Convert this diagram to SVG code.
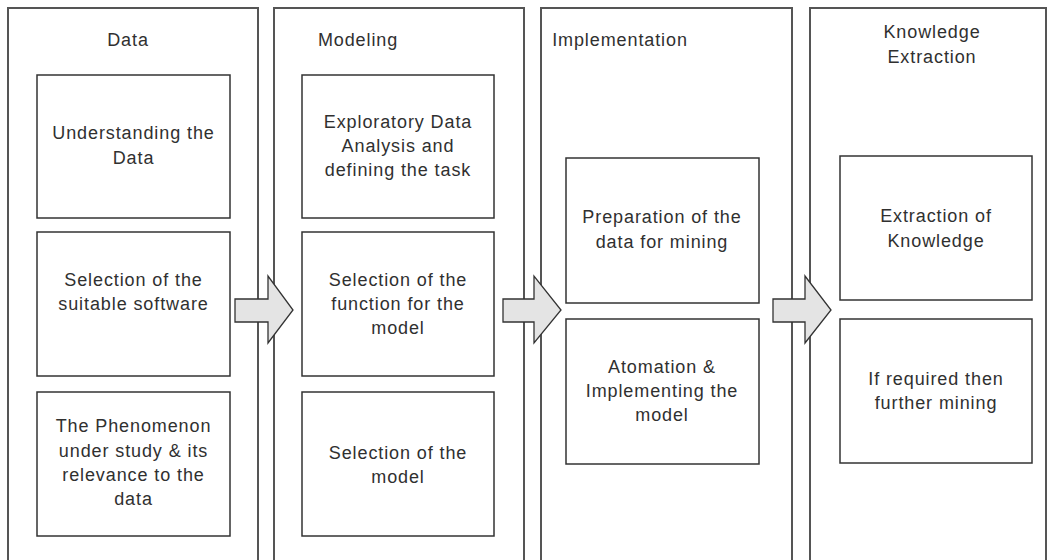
<svg xmlns="http://www.w3.org/2000/svg" width="1051" height="560" viewBox="0 0 1051 560">
  <style>
    .stage { fill: #ffffff; stroke: #555555; stroke-width: 2; }
    .step { fill: #ffffff; stroke: #333333; stroke-width: 1.5; }
    .arrow { fill: #e4e4e4; stroke: #333333; stroke-width: 1.3; stroke-linejoin: miter; }
    text { font-family: "Liberation Sans", Arial, sans-serif; font-size: 18px; fill: #303030; text-anchor: middle; letter-spacing: 0.9px; }
  </style>
  <rect width="1051" height="560" fill="#ffffff"/>

  <!-- Stage 1: Data -->
  <g id="stage-data">
    <rect class="stage" x="8" y="8" width="250" height="570"/>
    <text x="128" y="46">Data</text>
    <g id="data-understanding">
      <rect class="step" x="37" y="75" width="193" height="143"/>
      <text x="133.5" y="139">Understanding the</text>
      <text x="133.5" y="164">Data</text>
    </g>
    <g id="data-software">
      <rect class="step" x="37" y="232" width="193" height="144"/>
      <text x="133.5" y="286">Selection of the</text>
      <text x="133.5" y="310">suitable software</text>
    </g>
    <g id="data-phenomenon">
      <rect class="step" x="37" y="392" width="193" height="144"/>
      <text x="133.5" y="432">The Phenomenon</text>
      <text x="133.5" y="457">under study &amp; its</text>
      <text x="133.5" y="481">relevance to the</text>
      <text x="133.5" y="505">data</text>
    </g>
  </g>

  <!-- Stage 2: Modeling -->
  <g id="stage-modeling">
    <rect class="stage" x="274" y="8" width="250" height="570"/>
    <text x="358" y="46">Modeling</text>
    <g id="modeling-eda">
      <rect class="step" x="302" y="75" width="192" height="143"/>
      <text x="398" y="128">Exploratory Data</text>
      <text x="398" y="152">Analysis and</text>
      <text x="398" y="176">defining the task</text>
    </g>
    <g id="modeling-function">
      <rect class="step" x="302" y="232" width="192" height="144"/>
      <text x="398" y="286">Selection of the</text>
      <text x="398" y="310">function for the</text>
      <text x="398" y="334">model</text>
    </g>
    <g id="modeling-model">
      <rect class="step" x="302" y="392" width="192" height="144"/>
      <text x="398" y="459">Selection of the</text>
      <text x="398" y="483">model</text>
    </g>
  </g>

  <!-- Stage 3: Implementation -->
  <g id="stage-implementation">
    <rect class="stage" x="541" y="8" width="251" height="570"/>
    <text x="620" y="46">Implementation</text>
    <g id="impl-preparation">
      <rect class="step" x="566" y="158" width="193" height="145"/>
      <text x="662" y="223">Preparation of the</text>
      <text x="662" y="248">data for mining</text>
    </g>
    <g id="impl-automation">
      <rect class="step" x="566" y="319" width="193" height="145"/>
      <text x="662" y="373">Atomation &amp;</text>
      <text x="662" y="397">Implementing the</text>
      <text x="662" y="421">model</text>
    </g>
  </g>

  <!-- Stage 4: Knowledge Extraction -->
  <g id="stage-knowledge">
    <rect class="stage" x="810" y="8" width="236" height="570"/>
    <text x="932" y="38">Knowledge</text>
    <text x="932" y="63">Extraction</text>
    <g id="knowledge-extraction">
      <rect class="step" x="840" y="156" width="192" height="144"/>
      <text x="936" y="222">Extraction of</text>
      <text x="936" y="247">Knowledge</text>
    </g>
    <g id="knowledge-further">
      <rect class="step" x="840" y="319" width="192" height="144"/>
      <text x="936" y="385">If required then</text>
      <text x="936" y="409">further mining</text>
    </g>
  </g>

  <!-- Block arrows between stages -->
  <g id="connectors">
    <polygon class="arrow" points="235,299 268,299 268,276 293,310 268,343 268,322 235,322"/>
    <polygon class="arrow" points="503,299 534,299 534,276 561,310 534,343 534,322 503,322"/>
    <polygon class="arrow" points="773,299 805,299 805,276 831,310 805,343 805,322 773,322"/>
  </g>
</svg>
